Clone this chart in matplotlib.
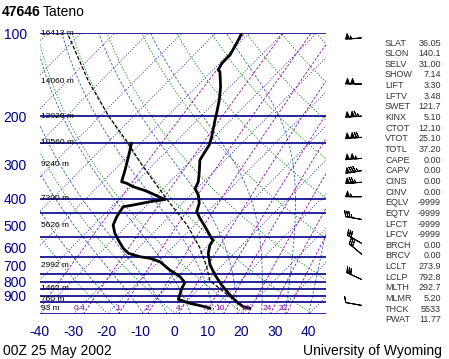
import numpy as np
import matplotlib
matplotlib.use("Agg")
import matplotlib.pyplot as plt

# ---------------- data ----------------
station = "47646"
station_name = "Tateno"
date_label = "00Z 25 May 2002"
credit = "University of Wyoming"

temp_p = [100.1, 105.9, 120.0, 128.6, 136.1, 138.0, 156.5, 174.9, 195.5, 206.8, 237.8,
          254.9, 269.6, 288.9, 314.2, 346.5, 361.3, 366.1, 387.3, 415.1, 445.4, 470.7,
          505.0, 556.4, 564.4, 588.5, 630.8, 695.7, 756.4, 822.5, 894.3, 945.9, 986.3, 999.6]
temp_t = [-62.2, -61.2, -59.3, -59.3, -58.4, -57.4, -52.8, -49.3, -46.2, -44.7, -40.8,
          -39.1, -38.4, -37.5, -34.7, -31.6, -30.8, -30.7, -27.7, -25.0, -23.3, -20.4,
          -16.4, -11.1, -10.1, -9.6, -7.7, -3.7, 0.7, 5.6, 11.0, 14.9, 18.4, 20.8]

dwpt_p = [251.3, 281.1, 314.2, 346.5, 351.2, 361.3, 371.4, 379.9, 402.1, 409.6, 421.1,
          427.1, 464.4, 498.3, 533.6, 564.4, 605.0, 630.8, 649.0, 657.8, 676.7, 725.5,
          767.3, 806.8, 845.5, 927.1, 958.7, 986.3, 999.6]
dwpt_t = [-62.7, -59.7, -56.8, -54.4, -52.4, -49.5, -45.5, -42.7, -36.3, -40.1, -44.1,
          -46.6, -45.6, -44.2, -41.3, -38.3, -34.4, -31.4, -27.0, -23.5, -19.6, -14.2,
          -9.2, -6.0, -5.3, -3.1, 1.5, 7.0, 8.9]

parcel_p = [1000, 900, 792.8, 700, 600, 500, 400, 300, 250, 200, 150, 100]
parcel_t = [19.5, 10.8, 0.8, -4.6, -12.0, -22.0, -36.0, -53.5, -64.0, -77.5, -93.5, -114.0]

wind_p = [104, 153, 200, 239, 285, 316, 348, 393, 475, 580, 635, 785, 975]
wind_dir = [265, 270, 265, 265, 265, 260, 265, 270, 280, 300, 310, 295, 280]
wind_spd = [55, 100, 115, 120, 105, 85, 75, 55, 35, 30, 30, 30, 10]

index_names = ["SLAT", "SLON", "SELV", "SHOW", "LIFT", "LFTV", "SWET", "KINX", "CTOT",
               "VTOT", "TOTL", "CAPE", "CAPV", "CINS", "CINV", "EQLV", "EQTV", "LFCT",
               "LFCV", "BRCH", "BRCV", "LCLT", "LCLP", "MLTH", "MLMR", "THCK", "PWAT"]
index_values = ["36.05", "140.1", "31.00", "7.14", "3.30", "3.48", "121.7", "5.10", "12.10",
                "25.10", "37.20", "0.00", "0.00", "0.00", "0.00", "-9999", "-9999", "-9999",
                "-9999", "0.00", "0.00", "273.9", "792.8", "292.7", "5.20", "5533", "11.77"]

height_p = [100, 150, 200, 250, 300, 400, 500, 700, 850, 925, 1000]
height_labels = ["16413 m", "14060 m", "12020 m", "10560 m", "9240 m", "7300 m",
                 "5626 m", "2992 m", "1462 m", "760 m", "93 m"]

isobar_lines = [100, 200, 250, 400, 450, 550, 650, 750, 800, 850, 900, 950, 1050]
pressure_ticks = [100, 200, 300, 400, 500, 600, 700, 800, 900]
temp_ticks = [-40, -30, -20, -10, 0, 10, 20, 30, 40]
mixing_ratios = [0.1, 0.4, 1, 2, 4, 7, 10, 16, 24, 32]
mixing_labels = ["0.1", "0.4", "1", "2", "4", "7", "10", "16", "24", "32"]
isotherm_temps = list(range(-160, 50, 10))
dry_thetas = list(range(250, 480, 20))
moist_starts = list(range(-16, 45, 7))

# ---------------- setup ----------------
P_BOT, P_TOP = 1050.0, 100.0
SKEW = 35.0
NAVY = "#00008b"

def sx(t, p):
    return np.asarray(t, float) + SKEW * np.log(P_BOT / np.asarray(p, float))

plt.rcParams['font.family'] = ['Liberation Sans', 'DejaVu Sans']
W, H = 449, 359
fig = plt.figure(figsize=(W / 100, H / 100), dpi=100)
L, R, T, B = 39.5, 325.5, 33.2, 314.2
ax = fig.add_axes([L / W, (H - B) / H, (R - L) / W, (B - T) / H])
ax.set_yscale('log')
ax.set_ylim(P_BOT, P_TOP)
ax.set_xlim(-40, 45)
for s in ax.spines.values():
    s.set_visible(False)
ax.set_yticks(pressure_ticks)
ax.set_yticklabels([str(v) for v in pressure_ticks])
ax.yaxis.set_minor_locator(matplotlib.ticker.NullLocator())
ax.set_xticks(temp_ticks)
ax.set_xticklabels([str(v) for v in temp_ticks])
ax.tick_params(axis='both', length=0, colors=NAVY, labelsize=10)
ax.tick_params(axis='y', pad=9)
ax.tick_params(axis='x', pad=8)

pp = np.geomspace(P_BOT, P_TOP, 200)
GRID_LW = 0.6

# isotherms
for t in isotherm_temps:
    ax.plot(sx(np.full_like(pp, t), pp), pp, color="#0000a0", lw=GRID_LW, ls=(0, (1, 2.2)))

# dry adiabats
for th in dry_thetas:
    tt = th * (pp / 1000.0) ** 0.2857 - 273.15
    ax.plot(sx(tt, pp), pp, color="#009000", lw=GRID_LW, ls=(0, (1.5, 2)))

# moist adiabats
def es(Tk):
    return 6.112 * np.exp(17.67 * (Tk - 273.15) / (Tk - 29.65))

def dtdp(Tk, p):
    Rd, cp, Lv, eps = 287.04, 1005.7, 2.501e6, 0.622
    rs = eps * es(Tk) / (p - es(Tk))
    return ((Rd * Tk + Lv * rs) / p) / (cp + Lv * Lv * rs * eps / (Rd * Tk * Tk))

pm = np.geomspace(P_BOT, P_TOP, 300)
for t0 in moist_starts:
    Tk = np.empty_like(pm)
    Tk[0] = t0 + 273.15
    for i in range(1, len(pm)):
        dp = pm[i] - pm[i - 1]
        k1 = dtdp(Tk[i - 1], pm[i - 1])
        k2 = dtdp(Tk[i - 1] + 0.5 * dp * k1, pm[i - 1] + 0.5 * dp)
        k3 = dtdp(Tk[i - 1] + 0.5 * dp * k2, pm[i - 1] + 0.5 * dp)
        k4 = dtdp(Tk[i - 1] + dp * k3, pm[i])
        Tk[i] = Tk[i - 1] + dp * (k1 + 2 * k2 + 2 * k3 + k4) / 6
    ax.plot(sx(Tk - 273.15, pm), pm, color="#2a64a8", lw=GRID_LW, ls=(0, (3, 2)))

# mixing ratio lines
for w, lab in zip(mixing_ratios, mixing_labels):
    e = w * pp / (622.0 + w)
    td = 243.5 * np.log(e / 6.112) / (17.67 - np.log(e / 6.112))
    ax.plot(sx(td, pp), pp, color="#9000b0", lw=GRID_LW, ls=(0, (3, 2)))
    e0 = w * 1000 / (622.0 + w)
    td0 = 243.5 * np.log(e0 / 6.112) / (17.67 - np.log(e0 / 6.112))
    x0 = float(sx(td0, 1000))
    if -35 < x0 < 45:
        ax.text(x0 - 0.5, 1000, lab, color="#9000b0", fontsize=6, ha='right', va='center')

# isobars
for p in isobar_lines:
    ax.axhline(p, color=NAVY, lw=1.2)

# height labels
for p, lab in zip(height_p, height_labels):
    ax.text(0.005, p, lab, transform=ax.get_yaxis_transform(), fontsize=6,
            color="black", ha='left', va='center')

# profiles
ax.plot(sx(parcel_t, parcel_p), parcel_p, color="black", lw=0.9, ls=(0, (3, 1.5)))
ax.plot(sx(temp_t, temp_p), temp_p, color="black", lw=2.0, solid_joinstyle='round')
ax.plot(sx(dwpt_t, dwpt_p), dwpt_p, color="black", lw=2.0, solid_joinstyle='round')

# wind barbs
axw = fig.add_axes([R / W, (H - B) / H, 50 / W, (B - T) / H])
axw.set_yscale('log')
axw.set_ylim(P_BOT, P_TOP)
axw.set_xlim(0, 1)
axw.axis('off')
d = np.deg2rad(wind_dir)
u = -np.array(wind_spd) * np.sin(d)
v = -np.array(wind_spd) * np.cos(d)
axw.barbs(np.full(len(wind_p), 0.72), wind_p, u, v, length=4.8, lw=0.7,
          sizes=dict(height=0.35, spacing=0.13),
          barb_increments=dict(half=5, full=10, flag=50), clip_on=False)

# indices
for i, (n, val) in enumerate(zip(index_names, index_values)):
    y = 1 - (43 + i * 10.65) / H
    fig.text(385 / W, y, n, fontsize=6.5, color="#333333", ha='left', va='center')
    fig.text(441 / W, y, val, fontsize=6.5, color="#333333", ha='right', va='center')

fig.text(2 / W, 1 - 12 / H, station, fontsize=10, fontweight='bold', ha='left', va='center')
fig.text(43 / W, 1 - 12 / H, station_name, fontsize=10, ha='left', va='center')
fig.text(3 / W, 1 - 351 / H, date_label, fontsize=10, ha='left', va='center')
fig.text(442 / W, 1 - 351 / H, credit, fontsize=10, ha='right', va='center')

fig.savefig("out.png", dpi=100)
